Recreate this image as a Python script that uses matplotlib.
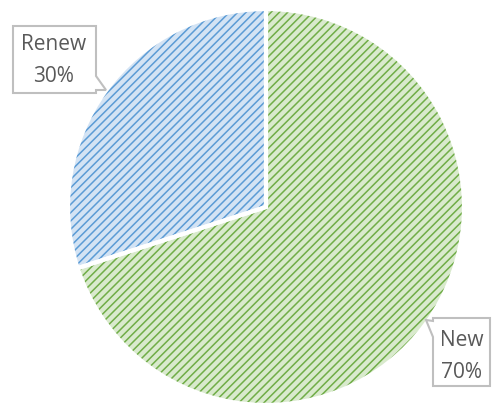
import matplotlib
matplotlib.use("Agg")
import matplotlib.pyplot as plt
from matplotlib.patches import Polygon

labels = ["New", "Renew"]
shares = [70, 30]
fills = ["#d9eacd", "#d3e3f4"]
hatch_cols = ["#70ad47", "#5b9bd5"]

W, H = 495, 408
fig = plt.figure(figsize=(W / 100, H / 100), dpi=100)
plt.rcParams["hatch.linewidth"] = 1.1

# pie centre (266, 207) px, radius 198 px
cx, cy, r = 266, 207, 198
ax = fig.add_axes([(cx - r) / W, (H - cy - r) / H, 2 * r / W, 2 * r / H])

wedges, _ = ax.pie(shares, startangle=90, counterclock=False, radius=1,
                   colors=fills, wedgeprops=dict(linewidth=0))
for w, hc in zip(wedges, hatch_cols):
    w.set_hatch("////")
    w.set_edgecolor(hc)
    w.set_linewidth(0)

# white separators on top
ax.pie(shares, startangle=90, counterclock=False, radius=1,
       colors=["none", "none"],
       wedgeprops=dict(linewidth=3, edgecolor="white", fill=False))
ax.set_xlim(-1, 1)
ax.set_ylim(-1, 1)
ax.set_aspect("equal")
ax.axis("off")


def px(pts):
    return [(x / W, 1 - y / H) for x, y in pts]


def callout(pts, lines, centre):
    poly = Polygon(px(pts), closed=True, transform=fig.transFigure,
                   facecolor="white", edgecolor="#bfbfbf", linewidth=1.5)
    fig.add_artist(poly)
    x0, y0 = centre
    for i, t in enumerate(lines):
        fig.text(x0 / W, 1 - (y0 + i * 31) / H, t, ha="center", va="center",
                 fontsize=15, color="#595959", family="Open Sans")


callout([(13, 26), (96, 26), (96, 76), (106, 90), (96, 90), (96, 93), (13, 93)],
        [labels[1], f"{shares[1]}%"], (54, 45))
callout([(433, 318), (490, 318), (490, 386), (433, 386), (433, 337), (426, 320), (433, 321)],
        [labels[0], f"{shares[0]}%"], (462, 341))

fig.savefig("out.png", dpi=100)
